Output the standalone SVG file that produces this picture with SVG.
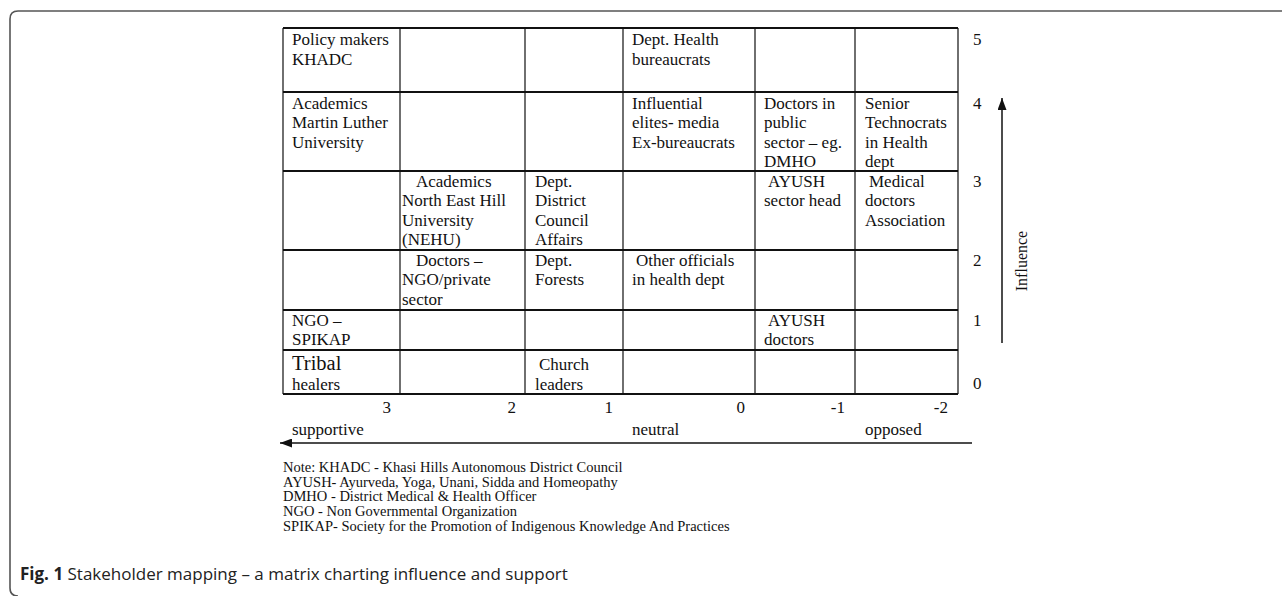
<svg xmlns="http://www.w3.org/2000/svg" width="1282" height="596" viewBox="0 0 1282 596">
<style>
.t{font-family:"Liberation Serif","Times New Roman",serif;font-size:17px;fill:#111}
.big{font-size:20.5px}
.note{font-family:"Liberation Serif","Times New Roman",serif;font-size:14.5px;fill:#111}
.cap{font-family:"Open Sans","Noto Sans",sans-serif;font-size:17px;fill:#222}
.hl{stroke:#111;stroke-width:1.8;fill:none}
.vl{stroke:#111;stroke-width:1.2;fill:none}
.ax{stroke:#111;stroke-width:1.5;fill:none;marker-end:url(#ah)}
.frame{stroke:#555;stroke-width:1.6;fill:none}
</style>
<defs>
<marker id="ah" markerUnits="userSpaceOnUse" markerWidth="13" markerHeight="9" refX="12" refY="4.5" orient="auto">
<path d="M0,0 L12,4.5 L0,9 z" fill="#111"/>
</marker>
</defs>
<rect width="1282" height="596" fill="#fff"/>
<path class="frame" d="M1282,11 H18 Q10,11 10,19 V588 Q10,596 18,596"/>

<g id="grid">
<path class="hl" d="M283,28 H958 M283,92 H958 M283,171 H958 M283,250 H958 M283,310 H958 M283,350 H958 M283,394 H958"/>
<path class="vl" d="M283,28 V394 M400,28 V394 M525,28 V394 M623,28 V394 M755,28 V394 M855,28 V394 M958,28 V394"/>
</g>

<g id="connectors">
<line class="ax" x1="1002" y1="343" x2="1002" y2="98"/>
<line class="ax" x1="972" y1="443" x2="280" y2="443"/>
</g>

<g id="n-policy"><text class="t" x="292" y="45">Policy makers</text><text class="t" x="292" y="65">KHADC</text></g>
<g id="n-health-bureaucrats"><text class="t" x="632" y="45">Dept. Health</text><text class="t" x="632" y="65">bureaucrats</text></g>

<g id="n-mlu"><text class="t" x="292" y="108.5">Academics</text><text class="t" x="292" y="128">Martin Luther</text><text class="t" x="292" y="147.5">University</text></g>
<g id="n-elites"><text class="t" x="632" y="108.5">Influential</text><text class="t" x="632" y="128">elites- media</text><text class="t" x="632" y="147.5">Ex-bureaucrats</text></g>
<g id="n-public-doctors"><text class="t" x="764" y="108.5">Doctors in</text><text class="t" x="764" y="128">public</text><text class="t" x="764" y="147.5">sector – eg.</text><text class="t" x="764" y="167">DMHO</text></g>
<g id="n-technocrats"><text class="t" x="865" y="108.5">Senior</text><text class="t" x="865" y="128">Technocrats</text><text class="t" x="865" y="147.5">in Health</text><text class="t" x="865" y="167">dept</text></g>

<g id="n-nehu"><text class="t" x="416" y="186.5">Academics</text><text class="t" x="402" y="206">North East Hill</text><text class="t" x="402" y="225.5">University</text><text class="t" x="402" y="245">(NEHU)</text></g>
<g id="n-dca"><text class="t" x="535" y="186.5">Dept.</text><text class="t" x="535" y="206">District</text><text class="t" x="535" y="225.5">Council</text><text class="t" x="535" y="245">Affairs</text></g>
<g id="n-ayush-head"><text class="t" x="768" y="186.5">AYUSH</text><text class="t" x="764" y="206">sector head</text></g>
<g id="n-mda"><text class="t" x="869" y="186.5">Medical</text><text class="t" x="865" y="206">doctors</text><text class="t" x="865" y="225.5">Association</text></g>

<g id="n-ngo-doctors"><text class="t" x="416" y="265.5">Doctors –</text><text class="t" x="402" y="285">NGO/private</text><text class="t" x="402" y="304.5">sector</text></g>
<g id="n-forests"><text class="t" x="535" y="265.5">Dept.</text><text class="t" x="535" y="285">Forests</text></g>
<g id="n-other-officials"><text class="t" x="636" y="265.5">Other officials</text><text class="t" x="632" y="285">in health dept</text></g>

<g id="n-spikap"><text class="t" x="292" y="326">NGO –</text><text class="t" x="292" y="345">SPIKAP</text></g>
<g id="n-ayush-doctors"><text class="t" x="768" y="326">AYUSH</text><text class="t" x="764" y="345">doctors</text></g>

<g id="n-healers"><text class="t big" x="292" y="370">Tribal</text><text class="t" x="292" y="390">healers</text></g>
<g id="n-church"><text class="t" x="539" y="370">Church</text><text class="t" x="535" y="390">leaders</text></g>

<g id="axis-influence">
<text class="t" x="973" y="45">5</text>
<text class="t" x="973" y="108.5">4</text>
<text class="t" x="973" y="186.5">3</text>
<text class="t" x="973" y="265.5">2</text>
<text class="t" x="973" y="326">1</text>
<text class="t" x="973" y="389">0</text>
<text class="t" transform="translate(1027,261) rotate(-90)" text-anchor="middle" style="font-size:16px">Influence</text>
</g>

<g id="axis-support" text-anchor="end">
<text class="t" x="391" y="413">3</text>
<text class="t" x="516" y="413">2</text>
<text class="t" x="613" y="413">1</text>
<text class="t" x="745" y="413">0</text>
<text class="t" x="845" y="413">-1</text>
<text class="t" x="948" y="413">-2</text>
</g>
<g id="support-labels">
<text class="t" x="292" y="435">supportive</text>
<text class="t" x="632" y="435">neutral</text>
<text class="t" x="865" y="435">opposed</text>
</g>

<g id="notes">
<text class="note" x="283" y="472">Note: KHADC - Khasi Hills Autonomous District Council</text>
<text class="note" x="283" y="486.7">AYUSH- Ayurveda, Yoga, Unani, Sidda and Homeopathy</text>
<text class="note" x="283" y="501.4">DMHO - District Medical &amp; Health Officer</text>
<text class="note" x="283" y="516.1">NGO - Non Governmental Organization</text>
<text class="note" x="283" y="530.8">SPIKAP- Society for the Promotion of Indigenous Knowledge And Practices</text>
</g>

<g id="caption">
<text class="cap" x="20" y="580"><tspan font-weight="bold">Fig. 1</tspan> Stakeholder mapping – a matrix charting influence and support</text>
</g>
</svg>
